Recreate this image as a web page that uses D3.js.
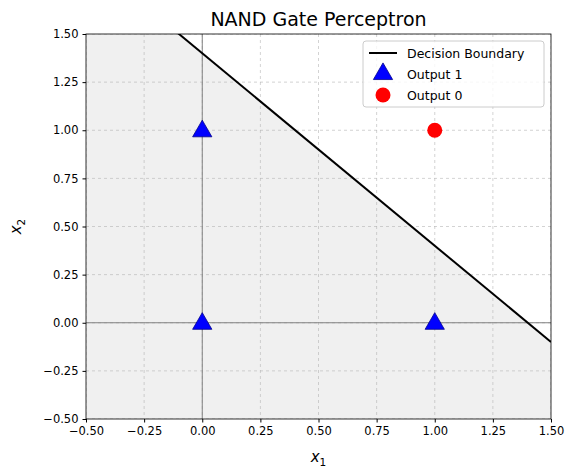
<!DOCTYPE html>
<html><head><meta charset="utf-8">
<script src="https://cdn.jsdelivr.net/npm/d3@7"></script>
<style>body{margin:0;background:#fff}text{font-family:"DejaVu Sans",sans-serif}</style>
</head><body>
<svg id="c" width="575" height="476"></svg>
<script>
const xTicks=[-0.5,-0.25,0,0.25,0.5,0.75,1,1.25,1.5];
const yTicks=[-0.5,-0.25,0,0.25,0.5,0.75,1,1.25,1.5];
const ones=[[0,0],[0,1],[1,0]];
const zeros=[[1,1]];
const boundaryX=[-0.5,1.5];
const w1=1,w2=1,bias=-1.4;
const svg=d3.select("#c");
const L=86,R=551,T=34,B=419;
const x=d3.scaleLinear().domain([-0.5,1.5]).range([L,R]);
const y=d3.scaleLinear().domain([-0.5,1.5]).range([B,T]);
const by=v=>-(w1*v+bias)/w2;
svg.append("defs").append("clipPath").attr("id","cp").append("rect").attr("x",L).attr("y",T).attr("width",R-L).attr("height",B-T);
const g=svg.append("g").attr("clip-path","url(#cp)");
g.append("path").attr("fill","#f0f0f0").attr("d",d3.line()([[x(-0.5),y(by(-0.5))],[x(1.5),y(by(1.5))],[x(1.5),y(-0.5)],[x(-0.5),y(-0.5)]]));
xTicks.forEach(t=>g.append("line").attr("x1",x(t)).attr("x2",x(t)).attr("y1",T).attr("y2",B).attr("stroke","#b0b0b0").attr("stroke-opacity",0.7).attr("stroke-dasharray","3,3").attr("stroke-width",0.8));
yTicks.forEach(t=>g.append("line").attr("y1",y(t)).attr("y2",y(t)).attr("x1",L).attr("x2",R).attr("stroke","#b0b0b0").attr("stroke-opacity",0.7).attr("stroke-dasharray","3,3").attr("stroke-width",0.8));
g.append("line").attr("x1",x(0)).attr("x2",x(0)).attr("y1",T).attr("y2",B).attr("stroke","#808080").attr("stroke-width",1);
g.append("line").attr("y1",y(0)).attr("y2",y(0)).attr("x1",L).attr("x2",R).attr("stroke","#808080").attr("stroke-width",1);
g.append("path").attr("fill","none").attr("stroke","#000").attr("stroke-width",2).attr("d",d3.line()(boundaryX.map(v=>[x(v),y(by(v))])));
const tri=d3.symbol().type(d3.symbolTriangle).size(160);
ones.forEach(p=>g.append("path").attr("d",tri()).attr("transform",`translate(${x(p[0])},${y(p[1])+1})`).attr("fill","#0000ff").attr("stroke","#00008b").attr("stroke-width",0.8));
zeros.forEach(p=>g.append("circle").attr("cx",x(p[0])).attr("cy",y(p[1])).attr("r",7.5).attr("fill","#ff0000"));
svg.append("rect").attr("x",L).attr("y",T).attr("width",R-L).attr("height",B-T).attr("fill","none").attr("stroke","#000").attr("stroke-width",0.8);
const fmt=d3.format(".2f");
svg.append("g").attr("transform",`translate(0,${B})`).call(d3.axisBottom(x).tickValues(xTicks).tickFormat(fmt).tickSize(3.5).tickPadding(4)).call(a=>{a.select(".domain").remove();a.selectAll("text").attr("font-size",11.5).attr("fill","#000").attr("font-family","DejaVu Sans");});
svg.append("g").attr("transform",`translate(${L},0)`).call(d3.axisLeft(y).tickValues(yTicks).tickFormat(fmt).tickSize(3.5).tickPadding(4)).call(a=>{a.select(".domain").remove();a.selectAll("text").attr("font-size",11.5).attr("fill","#000").attr("font-family","DejaVu Sans");});
svg.append("text").attr("x",(L+R)/2).attr("y",26).attr("text-anchor","middle").attr("font-size",19).text("NAND Gate Perceptron");
const xl=svg.append("text").attr("x",(L+R)/2).attr("y",462).attr("text-anchor","middle").attr("font-size",15).attr("font-style","italic");
xl.append("tspan").text("x");xl.append("tspan").attr("font-size",10.5).attr("dy",4).attr("font-style","normal").text("1");
const yl=svg.append("text").attr("transform",`translate(21,${(T+B)/2}) rotate(-90)`).attr("text-anchor","middle").attr("font-size",15).attr("font-style","italic");
yl.append("tspan").text("x");yl.append("tspan").attr("font-size",10.5).attr("dy",4).attr("font-style","normal").text("2");
const lg=svg.append("g").attr("transform","translate(363,41)");
lg.append("rect").attr("width",181).attr("height",66).attr("rx",3).attr("fill","#fff").attr("fill-opacity",0.8).attr("stroke","#ccc");
lg.append("line").attr("x1",6).attr("x2",34).attr("y1",12).attr("y2",12).attr("stroke","#000").attr("stroke-width",2);
lg.append("path").attr("d",tri()).attr("transform","translate(20,33)").attr("fill","#0000ff").attr("stroke","#00008b").attr("stroke-width",0.8);
lg.append("circle").attr("cx",20).attr("cy",54).attr("r",7.5).attr("fill","#ff0000");
[["Decision Boundary",12],["Output 1",33],["Output 0",54]].forEach(([t,yy])=>lg.append("text").attr("x",44).attr("y",yy+4.5).attr("font-size",12.5).text(t));
</script></body></html>
